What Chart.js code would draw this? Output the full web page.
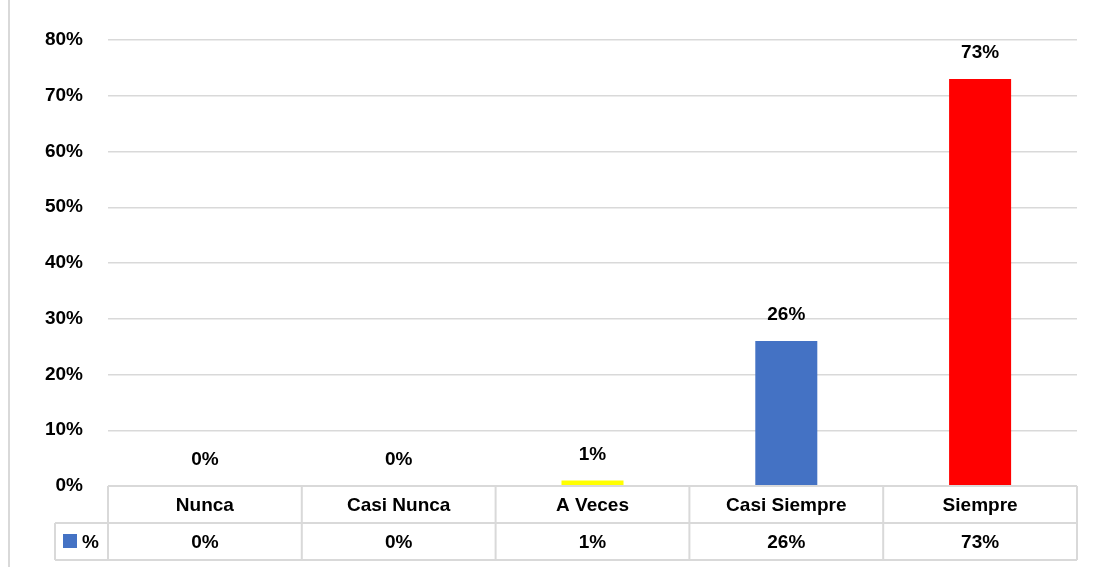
<!DOCTYPE html>
<html>
<head>
<meta charset="utf-8">
<script src="https://cdn.jsdelivr.net/npm/chart.js@4.4.1/dist/chart.umd.min.js"></script>
<style>
    html, body { margin: 0; padding: 0; background: #fff; }
    #wrap { position: relative; width: 1097px; height: 567px; }
    #edge { position: absolute; left: 8px; top: 0; width: 2px; height: 567px; background: #d9d9d9; }
    canvas { position: absolute; left: 0; top: 0; }
</style>
</head>
<body>
<div id="wrap">
    <div id="edge"></div>
    <canvas id="chart" width="1097" height="567"></canvas>
</div>
<script>
const categories = ['Nunca', 'Casi Nunca', 'A Veces', 'Casi Siempre', 'Siempre'];
const values = [0, 0, 1, 26, 73];
const barColors = ['#4472C4', '#4472C4', '#FFFF00', '#4472C4', '#FF0000'];
const seriesName = '%';
const legendColor = '#4472C4';

const FONT = 'bold 19px "Liberation Sans", Arial, sans-serif';
const LINE = '#d9d9d9';

// Value labels above each bar
const valueLabels = {
    id: 'valueLabels',
    afterDatasetsDraw(chart) {
        const ctx = chart.ctx;
        const meta = chart.getDatasetMeta(0);
        ctx.save();
        ctx.font = FONT;
        ctx.fillStyle = '#000';
        ctx.textAlign = 'center';
        ctx.textBaseline = 'middle';
        meta.data.forEach((bar, i) => {
            ctx.fillText(values[i] + '%', bar.x, bar.y - 26);
        });
        ctx.restore();
    }
};

// Excel style data table under the plot
const dataTable = {
    id: 'dataTable',
    afterDraw(chart) {
        const ctx = chart.ctx;
        const area = chart.chartArea;
        const x = chart.scales.x;
        const rowH = 37;
        const top = area.bottom;
        const mid = top + rowH;
        const bot = mid + rowH;
        const legendLeft = 55;
        const step = (area.right - area.left) / categories.length;

        ctx.save();
        ctx.strokeStyle = LINE;
        ctx.lineWidth = 2;
        ctx.beginPath();
        ctx.moveTo(area.left, top); ctx.lineTo(area.right, top);
        ctx.moveTo(legendLeft, mid); ctx.lineTo(area.right, mid);
        ctx.moveTo(legendLeft, bot); ctx.lineTo(area.right, bot);
        ctx.moveTo(legendLeft, mid); ctx.lineTo(legendLeft, bot);
        for (let i = 0; i <= categories.length; i++) {
            const lx = area.left + i * step;
            ctx.moveTo(lx, top); ctx.lineTo(lx, bot);
        }
        ctx.stroke();

        ctx.font = FONT;
        ctx.fillStyle = '#000';
        ctx.textAlign = 'center';
        ctx.textBaseline = 'middle';
        categories.forEach((c, i) => {
            const cx = x.getPixelForValue(i);
            ctx.fillText(c, cx, top + rowH / 2 + 1);
            ctx.fillText(values[i] + '%', cx, mid + rowH / 2 + 1);
        });

        ctx.fillStyle = legendColor;
        ctx.fillRect(63, mid + 11, 14, 14);
        ctx.fillStyle = '#000';
        ctx.textAlign = 'left';
        ctx.fillText(seriesName, 82, mid + rowH / 2 + 1);
        ctx.restore();
    }
};

new Chart(document.getElementById('chart'), {
    type: 'bar',
    data: {
        labels: categories,
        datasets: [{
            label: seriesName,
            data: values,
            backgroundColor: barColors,
            borderWidth: 0,
            barPercentage: 0.64,
            categoryPercentage: 0.5
        }]
    },
    options: {
        responsive: false,
        animation: false,
        layout: { padding: { top: 40, right: 20, bottom: 81, left: 0 } },
        plugins: {
            legend: { display: false },
            tooltip: { enabled: false }
        },
        scales: {
            x: { display: false },
            y: {
                min: 0,
                max: 80,
                border: { display: false },
                grid: { color: LINE, lineWidth: 1.5, drawTicks: false },
                afterFit(scale) { scale.width = 108; },
                ticks: {
                    stepSize: 10,
                    padding: 25,
                    color: '#000',
                    font: { family: '"Liberation Sans", Arial, sans-serif', size: 19, weight: 'bold' },
                    callback: v => v + '%'
                }
            }
        }
    },
    plugins: [valueLabels, dataTable]
});
</script>
</body>
</html>
